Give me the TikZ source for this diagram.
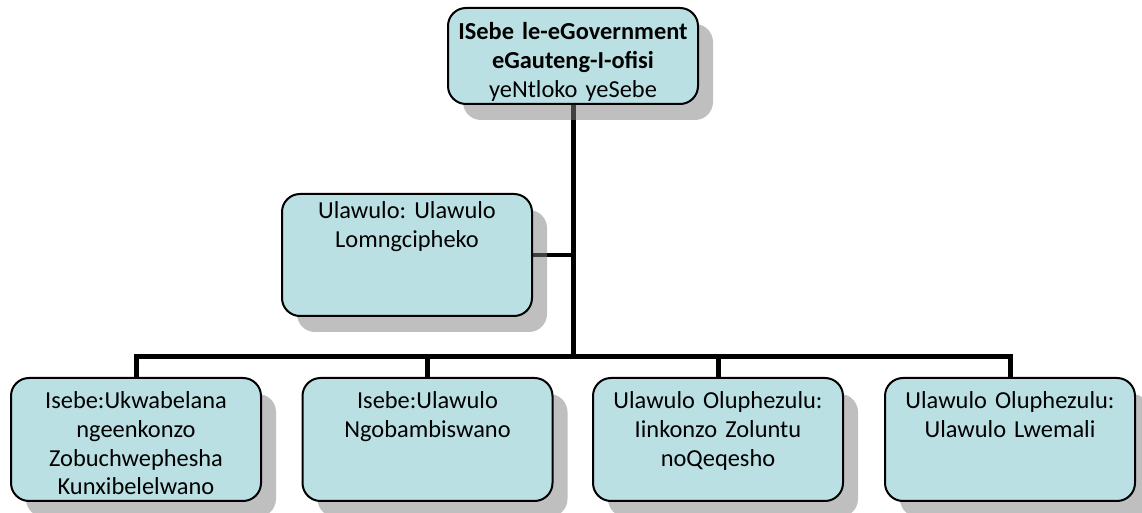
\documentclass[tikz,border=0pt]{standalone}
\usepackage{fontspec}
\setmainfont{Carlito}
\frenchspacing
\usetikzlibrary{shadows,backgrounds}
\definecolor{boxfill}{RGB}{186,224,227}
\begin{document}
\begin{tikzpicture}[x=0.5pt,y=-0.5pt,
  unit/.style={draw=black,line width=1pt,fill=boxfill,rounded corners=9pt,
    anchor=north,align=center,text width=121pt,inner xsep=2pt,inner ysep=0pt,
    font=\fontsize{12.2}{14.3}\selectfont,
    drop shadow={shadow xshift=7.5pt,shadow yshift=-8pt}},
  top unit/.style={unit,text height=16pt,text depth=32pt},
  side unit/.style={unit,text height=12.5pt,text depth=48.5pt},
  low unit/.style={unit,text height=15.5pt,text depth=46pt},
  link/.style={line width=2.5pt}]
\useasboundingbox (0,0) rectangle (1142,513);

% head office
\node[top unit] (head) at (573,7)
  {\textbf{ISebe le-eGovernment}\\\textbf{eGauteng-I-ofisi}\\yeNtloko yeSebe};

% staff unit
\node[side unit] (risk) at (407,193) {Ulawulo: Ulawulo\\Lomngcipheko};

% branches
\node[low unit] (ict) at (136,377)
  {Isebe:Ukwabelana\\ngeenkonzo\\Zobuchwephesha\\Kunxibelelwano};
\node[low unit] (coop) at (427.5,377) {Isebe:Ulawulo\\Ngobambiswano};
\node[low unit] (social) at (718,377) {Ulawulo Oluphezulu:\\Iinkonzo Zoluntu\\noQeqesho};
\node[low unit] (fin) at (1010,377) {Ulawulo Oluphezulu:\\Ulawulo Lwemali};

\coordinate (hub) at (573,357);

\begin{scope}[on background layer]
  \draw[link] (head.south) -- (hub);
  \draw[link] (ict.north) |- (fin.north |- hub) -- (fin.north);
  \draw[link] (coop.north) -- (coop.north |- hub);
  \draw[link] (social.north) -- (social.north |- hub);
  \draw[line width=2pt] (risk.east) -- (risk.east -| head.south);
\end{scope}
\end{tikzpicture}
\end{document}
